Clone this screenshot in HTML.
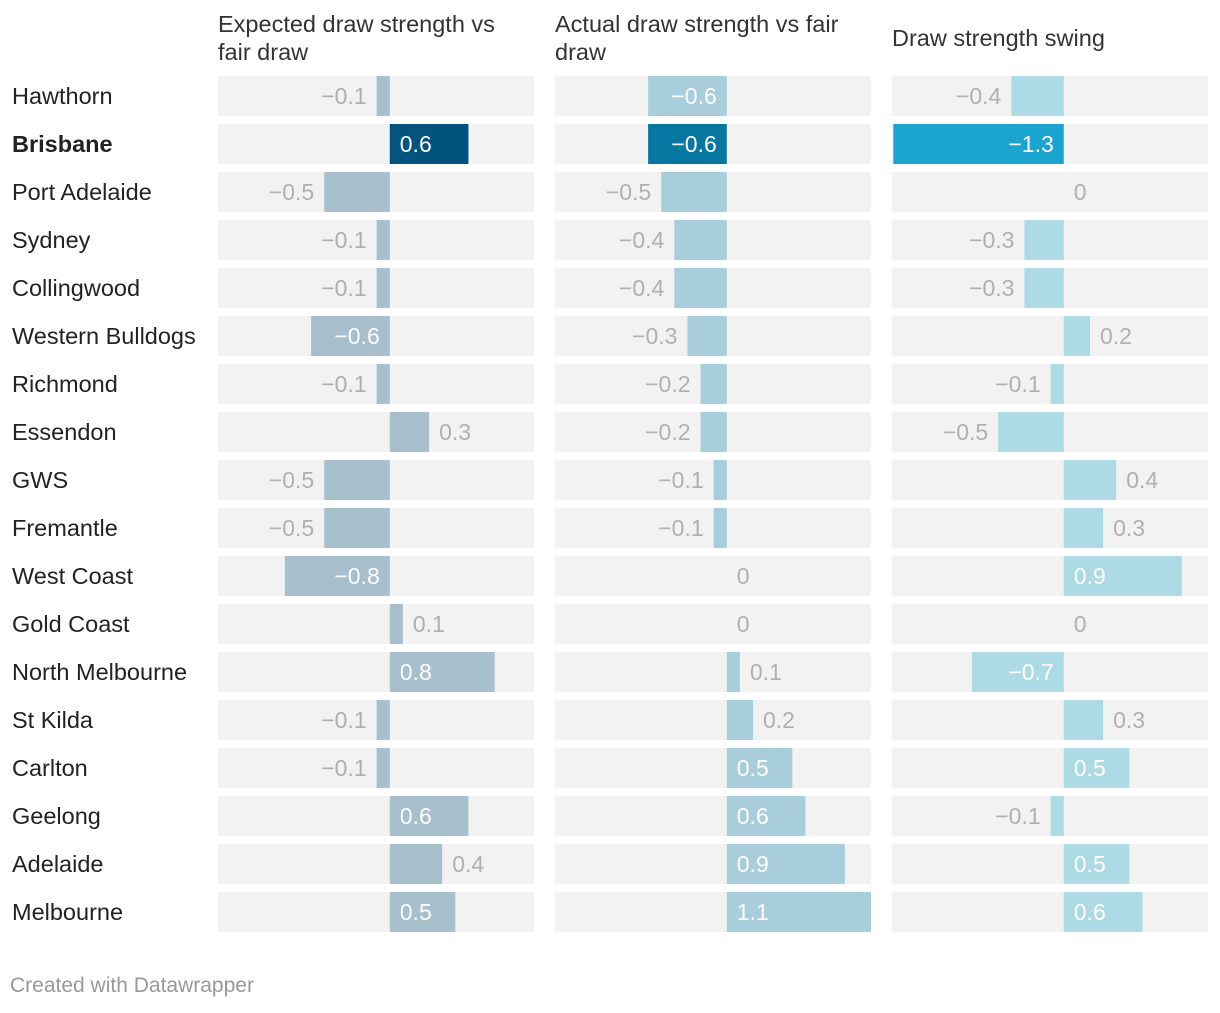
<!DOCTYPE html>
<html><head><meta charset="utf-8">
<style>
body{margin:0;background:#fff;width:1220px;height:1008px;overflow:hidden;font-family:"Liberation Sans",sans-serif;}
svg text{font-family:"Liberation Sans",sans-serif;}
</style></head>
<body>
<svg id="chart" width="1220" height="1008"></svg>
<script>
const teams=["Hawthorn","Brisbane","Port Adelaide","Sydney","Collingwood","Western Bulldogs","Richmond","Essendon","GWS","Fremantle","West Coast","Gold Coast","North Melbourne","St Kilda","Carlton","Geelong","Adelaide","Melbourne"];
const expectedVals=[-0.1,0.6,-0.5,-0.1,-0.1,-0.6,-0.1,0.3,-0.5,-0.5,-0.8,0.1,0.8,-0.1,-0.1,0.6,0.4,0.5];
const actualVals=[-0.6,-0.6,-0.5,-0.4,-0.4,-0.3,-0.2,-0.2,-0.1,-0.1,0,0,0.1,0.2,0.5,0.6,0.9,1.1];
const swingVals=[-0.4,-1.3,0,-0.3,-0.3,0.2,-0.1,-0.5,0.4,0.3,0.9,0,-0.7,0.3,0.5,-0.1,0.5,0.6];
const columnTitles=[["Expected draw strength vs","fair draw"],["Actual draw strength vs fair","draw"],["Draw strength swing"]];
const domainMin=-1.31, domainMax=1.1;
const highlight="Brisbane";

const svg=document.getElementById('chart');
const NS="http://www.w3.org/2000/svg";
function mk(tag,attrs){const e=document.createElementNS(NS,tag);for(const k in attrs)e.setAttribute(k,attrs[k]);svg.appendChild(e);return e;}
const cols=[{x:218,vals:expectedVals,color:"#a8bfcc",hi:"#00547e",name:"expected"},
            {x:555,vals:actualVals,color:"#a8cedb",hi:"#0577a0",name:"actual"},
            {x:892,vals:swingVals,color:"#acdbe6",hi:"#1aa4d0",name:"swing"}];
const colW=316, rowTop=76, rowStep=48, rowH=40;
const ctx=document.createElement('canvas').getContext('2d');
ctx.font='23px "Liberation Sans"';
function fmt(v){return v<0?"\u2212"+Math.abs(v):String(v);}

cols.forEach((c,ci)=>{
  const xs=v=>c.x+(v-domainMin)/(domainMax-domainMin)*colW;
  columnTitles[ci].forEach((line,li)=>{
    const y=columnTitles[ci].length===1?46:32+li*28;
    const t=mk('text',{x:c.x,y:y,'font-size':23.5,fill:'#333'});
    t.textContent=line;
    
    
  });
  teams.forEach((team,i)=>{
    const y=rowTop+i*rowStep;
    const bg=mk('rect',{x:c.x,y:y,width:colW,height:rowH,fill:'#f2f2f2'});
    
    
    const v=c.vals[i];
    const x0=xs(0), x1=xs(v);
    const bx=Math.min(x0,x1), bw=Math.abs(x1-x0);
    const bar=mk('rect',{x:bx,y:y,width:bw,height:rowH,fill:team===highlight?c.hi:c.color});
    
    
    const s=fmt(v), tw=ctx.measureText(s).width;
    const inside=v!==0 && bw>tw+22;
    let tx,anchor,fill;
    if(inside){fill='#fff'; if(v<0){tx=x0-10;anchor='end';}else{tx=x0+10;anchor='start';}}
    else{fill='#b0b0b0'; if(v<0){tx=bx-10;anchor='end';}else{tx=bx+bw+10;anchor='start';}}
    const lab=mk('text',{x:tx,y:y+28,'font-size':23,fill:fill,'text-anchor':anchor});
    lab.textContent=s;
    
    
  });
});
teams.forEach((team,i)=>{
  const t=mk('text',{x:12,y:rowTop+i*rowStep+28,'font-size':23.5,fill:'#222','font-weight':team===highlight?'bold':'normal'});
  t.textContent=team;
  
  
});
const f=mk('text',{x:10,y:992,'font-size':21,fill:'#999'});
f.textContent="Created with Datawrapper";


</script>
</body></html>
